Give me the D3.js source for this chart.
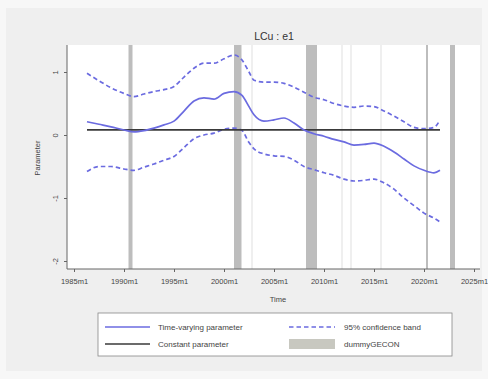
<!DOCTYPE html>
<html>
<head>
<meta charset="utf-8">
<script src="https://cdn.jsdelivr.net/npm/d3@7"></script>
<style>
  html, body { margin: 0; padding: 0; background: #ffffff; }
  svg { display: block; font-family: "Liberation Sans", Arial, sans-serif; }
</style>
</head>
<body>
<svg id="chart" width="488" height="379"></svg>
<script>
// Time axis (decimal years) and estimates
const years = [1986.3, 1987.5, 1988.7, 1990, 1991, 1992, 1993, 1994, 1995, 1996, 1997, 1998,
  1999, 2000, 2001, 2001.8, 2002.5, 2003, 2004, 2005, 2006, 2007, 2008, 2009, 2010, 2011,
  2012, 2013, 2014, 2015, 2016, 2017, 2018, 2019, 2020, 2021, 2021.6];

const timeVarying = [0.21, 0.17, 0.13, 0.08, 0.05, 0.07, 0.11, 0.16, 0.22, 0.38, 0.54, 0.59,
  0.57, 0.66, 0.69, 0.63, 0.45, 0.32, 0.22, 0.24, 0.27, 0.19, 0.08, 0.02, -0.02, -0.07,
  -0.11, -0.16, -0.15, -0.13, -0.18, -0.27, -0.38, -0.49, -0.56, -0.60, -0.56];

const upperBand = [0.98, 0.86, 0.75, 0.66, 0.61, 0.65, 0.69, 0.72, 0.77, 0.92, 1.06, 1.14,
  1.14, 1.21, 1.27, 1.19, 1.00, 0.87, 0.84, 0.84, 0.82, 0.76, 0.68, 0.60, 0.56, 0.50,
  0.46, 0.44, 0.46, 0.45, 0.38, 0.30, 0.21, 0.12, 0.10, 0.12, 0.24];

const lowerBand = [-0.58, -0.50, -0.50, -0.54, -0.56, -0.51, -0.46, -0.40, -0.34, -0.20, -0.06, 0.00,
  0.03, 0.09, 0.11, 0.07, -0.12, -0.22, -0.30, -0.33, -0.34, -0.40, -0.50, -0.55, -0.60, -0.64,
  -0.70, -0.73, -0.72, -0.70, -0.76, -0.86, -1.00, -1.12, -1.24, -1.32, -1.38];

const constantParam = 0.08;

// dummyGECON periods (start, end in decimal years)
const dummyStart = [1990.45, 2001.0, 2002.75, 2008.2, 2011.75, 2012.65, 2015.65, 2020.2, 2022.6];
const dummyEnd   = [1990.85, 2001.75, 2002.85, 2009.3, 2011.85, 2012.75, 2015.75, 2020.4, 2023.1];

const xTicks = [1985, 1990, 1995, 2000, 2005, 2010, 2015, 2020, 2025];
const xTickLabels = ["1985m1", "1990m1", "1995m1", "2000m1", "2005m1", "2010m1", "2015m1", "2020m1", "2025m1"];
const yTicks = [1, 0, -1, -2];
const yTickLabels = ["1", "0", "-1", "-2"];

const legendLabels = ["Time-varying parameter", "95% confidence band", "Constant parameter", "dummyGECON"];

const svg = d3.select("#chart");
const W = 488, H = 379;
const plot = { left: 67, right: 480, top: 45, bottom: 269 };

const lineColor = "#6b6be0";
const x = d3.scaleLinear().domain([1985, 2025]).range([74, 474]);
const y = d3.scaleLinear().domain([1, -2]).range([72, 261]);

// Graph region background
svg.append("rect").attr("x", 0).attr("y", 0).attr("width", W).attr("height", H).attr("fill", "#f7f7f7");
svg.append("rect").attr("x", 6).attr("y", 8).attr("width", W - 12).attr("height", H - 16).attr("fill", "#efefef");

// Plot region
svg.append("rect")
  .attr("x", plot.left).attr("y", plot.top)
  .attr("width", plot.right - plot.left).attr("height", plot.bottom - plot.top)
  .attr("fill", "#ffffff");

// Dummy shading
const dummies = dummyStart.map((s, i) => ({ s, e: dummyEnd[i] }));
svg.append("g").selectAll("rect").data(dummies).join("rect")
  .attr("x", d => x(d.s))
  .attr("width", d => Math.max(1, x(d.e) - x(d.s)))
  .attr("y", plot.top)
  .attr("height", plot.bottom - plot.top)
  .attr("fill", d => (d.e - d.s) < 0.15 ? "#e0e0e0" : "#bdbdbd");

const data = years.map((yr, i) => ({ yr, tv: timeVarying[i], up: upperBand[i], lo: lowerBand[i] }));
const curve = d3.curveMonotoneX;

// Confidence bands
["up", "lo"].forEach(k => {
  svg.append("path")
    .datum(data)
    .attr("fill", "none")
    .attr("stroke", lineColor)
    .attr("stroke-width", 1.7)
    .attr("stroke-dasharray", "4.5,3")
    .attr("d", d3.line().x(d => x(d.yr)).y(d => y(d[k])).curve(curve));
});

// Constant parameter
svg.append("line")
  .attr("x1", x(years[0])).attr("x2", x(years[years.length - 1]))
  .attr("y1", y(constantParam)).attr("y2", y(constantParam))
  .attr("stroke", "#3a3a3a").attr("stroke-width", 1.7);

// Time-varying parameter
svg.append("path")
  .datum(data)
  .attr("fill", "none")
  .attr("stroke", lineColor)
  .attr("stroke-width", 1.7)
  .attr("d", d3.line().x(d => x(d.yr)).y(d => y(d.tv)).curve(curve));

// Axes
const xAxis = d3.axisBottom(x).tickValues(xTicks).tickFormat((d, i) => xTickLabels[i]).tickSize(3).tickPadding(7);
const gx = svg.append("g").attr("transform", `translate(0,${plot.bottom})`).call(xAxis);
gx.select(".domain").attr("d", `M${plot.left},0H${plot.right}`).attr("stroke", "#666");
gx.selectAll(".tick line").attr("stroke", "#666");
gx.selectAll("text").attr("font-size", 7.5).attr("fill", "#444");

const yAxis = d3.axisLeft(y).tickValues(yTicks).tickFormat((d, i) => yTickLabels[i]).tickSize(3).tickPadding(0);
const gy = svg.append("g").attr("transform", `translate(${plot.left},0)`).call(yAxis);
gy.select(".domain").attr("d", `M0,${plot.top}V${plot.bottom}`).attr("stroke", "#666");
gy.selectAll(".tick line").attr("stroke", "#666");
gy.selectAll("text")
  .attr("font-size", 7.5).attr("fill", "#444")
  .attr("x", null).attr("dy", null)
  .attr("text-anchor", "middle")
  .attr("transform", "translate(-9,0) rotate(-90)");

// Titles
svg.append("text").attr("x", 274).attr("y", 40).attr("text-anchor", "middle")
  .attr("font-size", 10.5).attr("fill", "#333").text("LCu : e1");
svg.append("text").attr("x", x(2005) + 4).attr("y", 302).attr("text-anchor", "middle")
  .attr("font-size", 7.5).attr("fill", "#444").text("Time");
svg.append("text").attr("transform", "translate(40,158) rotate(-90)").attr("text-anchor", "middle")
  .attr("font-size", 7.5).attr("fill", "#444").text("Parameter");

// Legend
const lg = svg.append("g");
lg.append("rect").attr("x", 98).attr("y", 313).attr("width", 354).attr("height", 43)
  .attr("fill", "#ffffff").attr("stroke", "#888").attr("stroke-width", 0.8);
const row1 = 327, row2 = 344;
lg.append("line").attr("x1", 105).attr("x2", 150).attr("y1", row1).attr("y2", row1)
  .attr("stroke", lineColor).attr("stroke-width", 1.7);
lg.append("line").attr("x1", 105).attr("x2", 150).attr("y1", row2).attr("y2", row2)
  .attr("stroke", "#3a3a3a").attr("stroke-width", 1.7);
lg.append("line").attr("x1", 289).attr("x2", 335).attr("y1", row1).attr("y2", row1)
  .attr("stroke", lineColor).attr("stroke-width", 1.7).attr("stroke-dasharray", "4.5,3");
lg.append("rect").attr("x", 289).attr("y", row2 - 5).attr("width", 46).attr("height", 10).attr("fill", "#c8c8c0");
const legPos = [[158, row1], [344, row1], [158, row2], [344, row2]];
lg.selectAll("text.lab").data(legendLabels).join("text")
  .attr("class", "lab")
  .attr("x", (d, i) => legPos[i][0]).attr("y", (d, i) => legPos[i][1] + 3)
  .attr("font-size", 8).attr("fill", "#444").text(d => d);
</script>
</body>
</html>
